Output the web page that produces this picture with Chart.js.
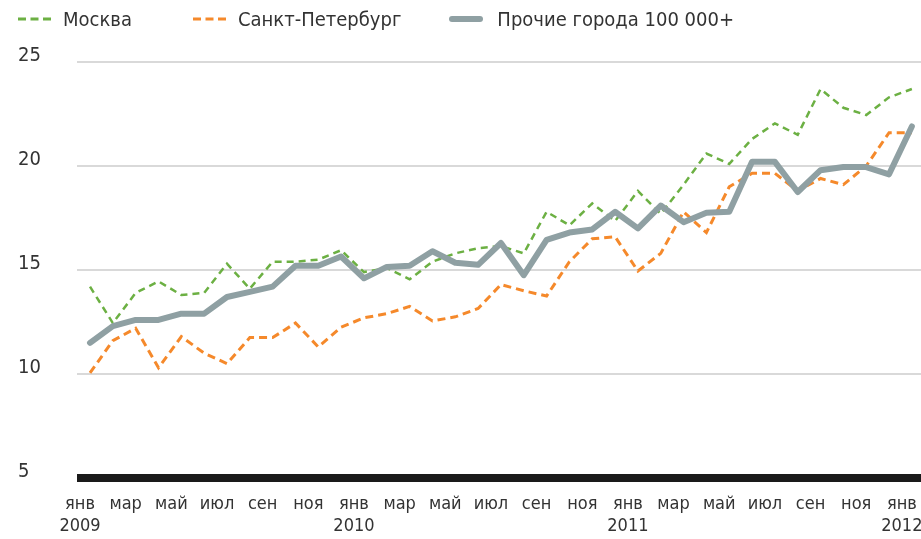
<!DOCTYPE html>
<html>
<head>
<meta charset="utf-8">
<script src="https://cdn.jsdelivr.net/npm/chart.js@4"></script>
<style>
  body { margin: 0; background: #fff; }
  #wrap { position: relative; width: 921px; height: 539px; }
  #legend { position: absolute; left: 18px; top: 6px; display: flex; font: 20px 'DejaVu Sans Condensed', sans-serif; color: #333; line-height: 26px; }
  #legend .item { display: flex; align-items: center; }
  #legend svg { margin-right: 11px; }
</style>
</head>
<body>
<div id="wrap">
  <div id="legend"></div>
  <canvas id="lineChart" width="921" height="539"></canvas>
</div>
<script>
const monthNames = ['янв', 'фев', 'мар', 'апр', 'май', 'июн', 'июл', 'авг', 'сен', 'окт', 'ноя', 'дек'];
const years = [2009, 2010, 2011, 2012];
const seriesNames = ['Москва', 'Санкт-Петербург', 'Прочие города 100 000+'];

const moscow = [14.2, 12.45, 13.9, 14.45, 13.8, 13.9, 15.3, 14.1, 15.4, 15.4, 15.5, 15.95,
    14.9, 15.1, 14.55, 15.4, 15.8, 16.05, 16.15, 15.8, 17.8, 17.15, 18.2, 17.35,
    18.8, 17.7, 19.1, 20.6, 20.1, 21.3, 22.05, 21.5, 23.7, 22.8, 22.45, 23.3, 23.7];
const spb = [10.05, 11.6, 12.2, 10.3, 11.8, 11.0, 10.5, 11.75, 11.75, 12.45, 11.3, 12.25,
    12.7, 12.9, 13.25, 12.55, 12.75, 13.15, 14.3, 14.0, 13.75, 15.4, 16.5, 16.6,
    14.95, 15.8, 17.8, 16.8, 19.0, 19.65, 19.65, 18.8, 19.4, 19.1, 20.0, 21.6, 21.6];
const others = [11.5, 12.3, 12.6, 12.6, 12.9, 12.9, 13.7, 13.95, 14.2, 15.2, 15.2, 15.65,
    14.6, 15.15, 15.2, 15.9, 15.35, 15.25, 16.3, 14.75, 16.45, 16.8, 16.95, 17.8,
    17.0, 18.1, 17.3, 17.75, 17.8, 20.2, 20.2, 18.75, 19.8, 19.95, 19.95, 19.6, 21.9];

const yTicks = [5, 10, 15, 20, 25];

// month labels: jan 2009 .. jan 2012, year under each january
const labels = moscow.map((v, i) => {
    const m = monthNames[i % 12];
    return i % 12 === 0 ? [m, String(years[i / 12])] : m;
});

const toPoints = arr => arr.map((v, i) => ({ x: i, y: v }));

Chart.defaults.font.family = "'DejaVu Sans Condensed', sans-serif";
Chart.defaults.font.size = 19;
Chart.defaults.color = '#333';

const datasets = [{
    label: seriesNames[0],
    data: toPoints(moscow),
    borderColor: '#6cb043',
    borderWidth: 2.5,
    borderDash: [7, 5],
    order: 1
}, {
    label: seriesNames[1],
    data: toPoints(spb),
    borderColor: '#f5892b',
    borderWidth: 3,
    borderDash: [8, 5],
    order: 2
}, {
    label: seriesNames[2],
    data: toPoints(others),
    borderColor: '#8fa0a3',
    borderWidth: 6,
    borderCapStyle: 'round',
    borderJoinStyle: 'round',
    order: 0
}];

const chart = new Chart(document.getElementById('lineChart'), {
    type: 'line',
    data: { datasets: datasets },
    options: {
        responsive: false,
        animation: false,
        elements: { point: { radius: 0 }, line: { tension: 0 } },
        layout: { padding: { top: 62, left: 18, right: 0, bottom: 0 } },
        plugins: { legend: { display: false }, tooltip: { enabled: false } },
        scales: {
            x: {
                type: 'linear',
                min: -0.57,
                max: 36.4,
                grid: { display: false, drawTicks: false },
                border: { display: false },
                afterBuildTicks: scale => {
                    scale.ticks = labels.map((l, i) => ({ value: i })).filter(t => t.value % 2 === 0);
                },
                afterFit: scale => {
                    scale.paddingLeft = 0;
                    scale.paddingRight = 0;
                    scale.height = 61;
                },
                ticks: {
                    autoSkip: false,
                    maxRotation: 0,
                    padding: 15,
                    labelOffset: -10,
                    font: { size: 18, lineHeight: 1.25 },
                    callback: value => labels[value]
                }
            },
            y: {
                min: 5,
                max: 25,
                afterBuildTicks: scale => {
                    scale.ticks = yTicks.map(v => ({ value: v }));
                },
                afterFit: scale => { scale.width = 59; },
                border: { display: false },
                grid: {
                    drawTicks: false,
                    color: ctx => ctx.tick && ctx.tick.value === 5 ? '#1a1a1a' : '#d9d9d9',
                    lineWidth: ctx => ctx.tick && ctx.tick.value === 5 ? 8 : 2
                },
                ticks: { crossAlign: 'far', padding: 0, labelOffset: -6, font: { size: 20 } }
            }
        }
    }
});

// html legend built from the datasets
const legendEl = document.getElementById('legend');
const legendGaps = [61, 48, 0];
datasets.forEach((ds, i) => {
    const item = document.createElement('div');
    item.className = 'item';
    item.style.marginRight = legendGaps[i] + 'px';
    const dashed = !!ds.borderDash;
    item.innerHTML = '<svg width="34" height="10" style="margin-right:' + (dashed ? 11 : 14) + 'px"><line x1="' + (dashed ? 0 : 3) + '" y1="5" x2="' + (dashed ? 34 : 31) +
        '" y2="5" stroke="' + ds.borderColor + '" stroke-width="' + (dashed ? 3 : 6) +
        '" stroke-dasharray="' + (dashed ? '8 4.5' : 'none') + '" stroke-linecap="' + (dashed ? 'butt' : 'round') + '"/></svg>';
    const span = document.createElement('span');
    span.textContent = ds.label;
    item.appendChild(span);
    legendEl.appendChild(item);
});
</script>
</body>
</html>
